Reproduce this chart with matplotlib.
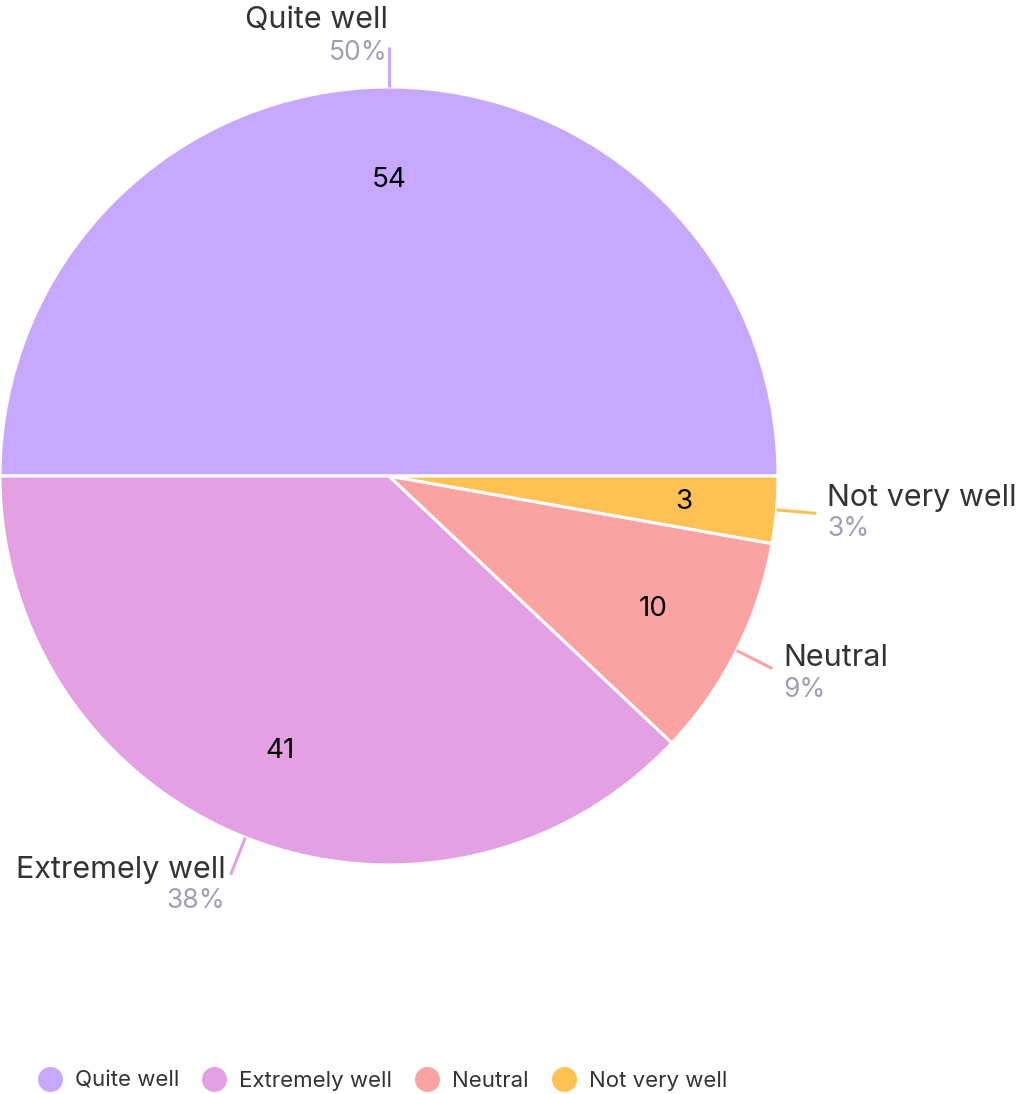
import numpy as np
import matplotlib.pyplot as plt
from matplotlib.lines import Line2D

# ----------------------------
# Data
# ----------------------------
categories = ["Quite well", "Extremely well", "Neutral", "Not very well"]
counts = [54, 41, 10, 3]
percent_labels = ["50%", "38%", "9%", "3%"]
colors = ["#c6a9fe", "#e3a0e3", "#fba3a3", "#ffc153"]

plt.rcParams['font.family'] = ['Inter', 'DejaVu Sans']

W, H = 1021, 1094
fig = plt.figure(figsize=(W / 100, H / 100), dpi=100)
ax = fig.add_axes([0, 0, 1, 1])

cx, cy, r = 389, H - 476, 389

wedges, texts = ax.pie(
    counts, colors=colors, startangle=0, counterclock=True,
    center=(cx, cy), radius=r, labels=[str(c) for c in counts],
    labeldistance=0.76, frame=True,
    wedgeprops=dict(edgecolor='white', linewidth=2.2),
    textprops=dict(fontsize=20, color='black', ha='center', va='center'),
)
ax.set_xlim(0, W)
ax.set_ylim(0, H)
ax.set_aspect('equal')
ax.axis('off')

# outside labels with leader lines
# per label: (ha, name dy, pct dy, text dx) in pixels
label_style = {
    "Quite well": ('right', 27, -6, -1),
    "Extremely well": ('right', 5, -26, -5),
    "Neutral": ('left', 11, -21, 11),
    "Not very well": ('left', 15, -16, 11),
}
for w, name, pct in zip(wedges, categories, percent_labels):
    mid = np.deg2rad((w.theta1 + w.theta2) / 2)
    x0 = cx + r * np.cos(mid)
    y0 = cy + r * np.sin(mid)
    x1 = cx + (r + 40) * np.cos(mid)
    y1 = cy + (r + 40) * np.sin(mid)
    ax.plot([x0, x1], [y0, y1], color=w.get_facecolor(), lw=2.2,
            solid_capstyle='butt')
    ha, ndy, pdy, tdx = label_style[name]
    ax.text(x1 + tdx, y1 + ndy, name, ha=ha, va='center', fontsize=22,
            color='#333333')
    ax.text(x1 + tdx, y1 + pdy, pct, ha=ha, va='center', fontsize=19,
            color='#9e9eb8')

# legend
handles = [Line2D([0], [0], marker='o', linestyle='', markersize=17,
                  markerfacecolor=c, markeredgecolor=c) for c in colors]
fig.legend(handles, categories, loc='center left',
           bbox_to_anchor=(19 / W, 1 - 1081 / H), ncol=4, frameon=False,
           fontsize=16, handlelength=1.0, handletextpad=0.6,
           columnspacing=1.1, labelcolor='#333333')

fig.savefig("out.png", dpi=100)
